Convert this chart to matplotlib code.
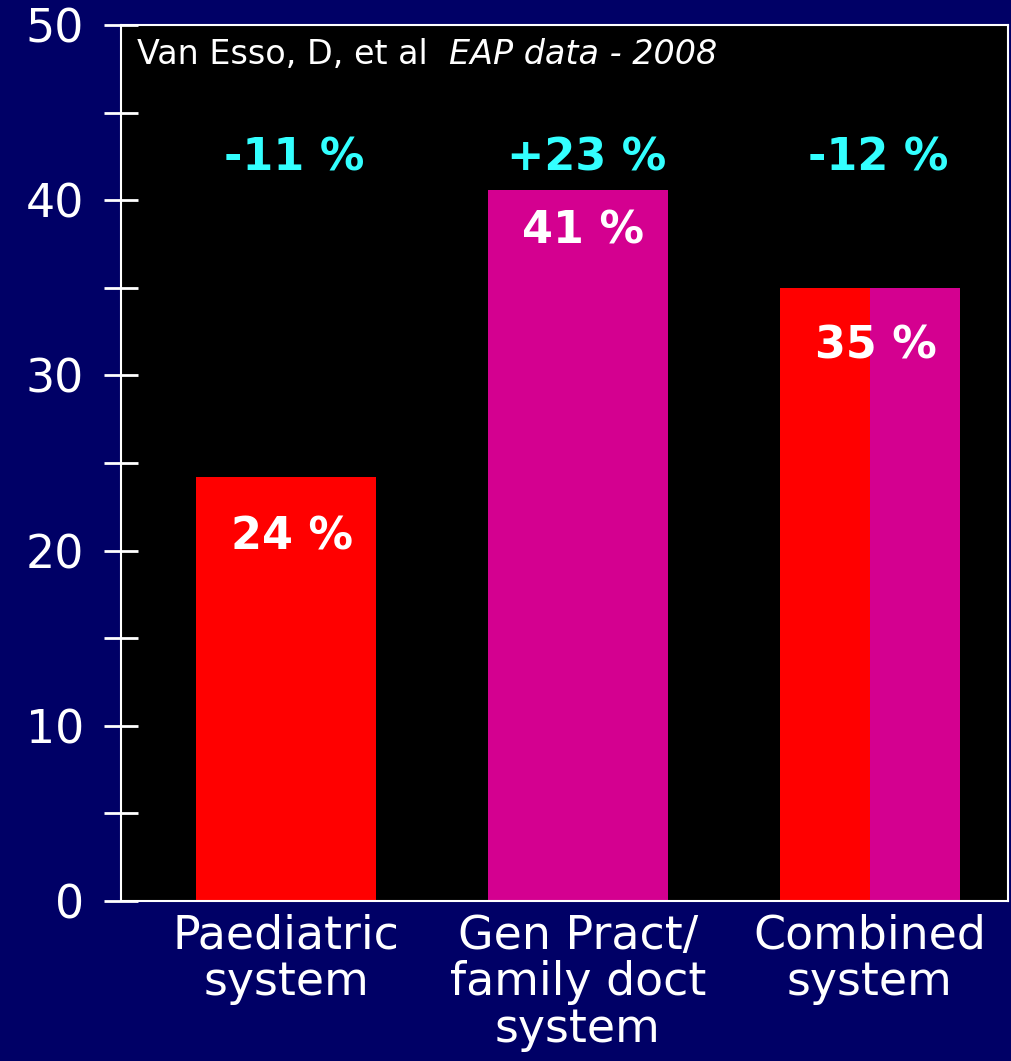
import numpy as np
import matplotlib.pyplot as plt
from matplotlib.ticker import MultipleLocator

# data
categories = ['Paediatric\nsystem', 'Gen Pract/\nfamily doct\nsystem', 'Combined\nsystem']
values = [24.2, 40.6, 35.0]
value_labels = ['24 %', '41 %', '35 %']
change_labels = ['-11 %', '+23 %', '-12 %']

# how far below the bar top each value label sits (points)
label_drop = [-43, -30, -42]

navy = '#000066'
red = '#FF0000'
magenta = '#D40090'
cyan = '#33FFFF'

plt.rcParams['font.family'] = ['DejaVu Sans']

fig = plt.figure(figsize=(10.11, 10.61), dpi=100, facecolor=navy)
ax = fig.add_axes([0.1197, 0.1508, 0.8773, 0.8256], facecolor='black')

x = np.arange(len(categories))
w = 0.616

# first two bars: single colour
ax.bar(x[0], values[0], width=w, color=red)
ax.bar(x[1], values[1], width=w, color=magenta)
# combined system: half red, half magenta
ax.bar(x[2] - w / 2, values[2], width=w / 2, align='edge', color=red)
ax.bar(x[2], values[2], width=w / 2, align='edge', color=magenta)

ax.set_xlim(-0.565, 2.473)
ax.set_ylim(0, 50)

# value labels inside the bars
for xi, v, lab, dy in zip(x, values, value_labels, label_drop):
    ax.annotate(lab, xy=(xi, v), xytext=(4, dy), textcoords='offset points',
                ha='center', va='center', color='white', fontsize=32,
                fontweight='bold')

# change labels above the bars
for xi, lab in zip(x, change_labels):
    ax.annotate(lab, xy=(xi, 42.4), xytext=(6, 0), textcoords='offset points',
                ha='center', va='center', color=cyan, fontsize=32,
                fontweight='bold')

# source note
t1 = ax.text(0.018, 0.985, 'Van Esso, D, et al  ', transform=ax.transAxes,
             ha='left', va='top', color='white', fontsize=24)
ax.annotate('EAP data - 2008', xy=(1, 0), xycoords=t1, ha='left', va='bottom',
            color='white', fontsize=24, style='italic')

ax.set_xticks(x)
ax.set_xticklabels(categories, color='white', fontsize=33, linespacing=1.05)
ax.tick_params(axis='x', length=0, pad=9)

ax.yaxis.set_major_locator(MultipleLocator(10))
ax.yaxis.set_minor_locator(MultipleLocator(5))
ax.tick_params(axis='y', which='both', direction='inout', length=25, width=2,
               color='white')
ax.tick_params(axis='y', which='major', labelcolor='white', labelsize=33, pad=14)

for side in ['left', 'top', 'right', 'bottom']:
    ax.spines[side].set_color('white')
    ax.spines[side].set_linewidth(1.5)

fig.savefig('out.png', dpi=100, facecolor=navy)
